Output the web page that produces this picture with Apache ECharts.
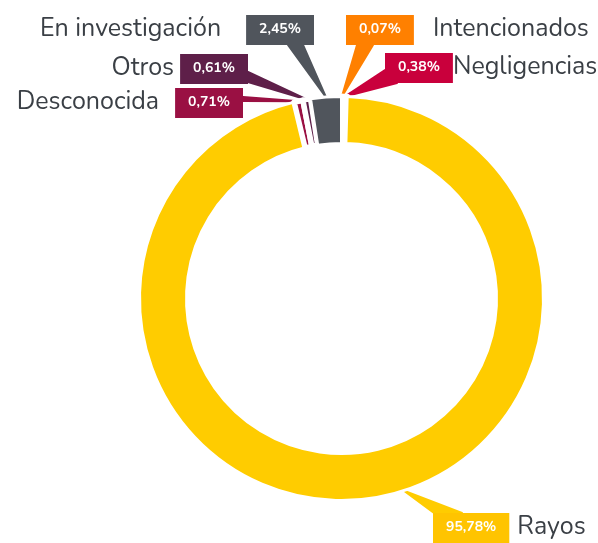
<!DOCTYPE html>
<html>
<head>
<meta charset="utf-8">
<script src="https://cdn.jsdelivr.net/npm/echarts@6/dist/echarts.min.js"></script>
<style>
  html, body { margin: 0; padding: 0; background: #fff; }
  #chart { width: 598px; height: 543px; }
</style>
</head>
<body>
<div id="chart"></div>
<script>
// datos (orden horario desde las 12)
const categories = ['Intencionados', 'Negligencias', 'Rayos', 'Desconocida', 'Otros', 'En investigación'];
const values = [0.07, 0.38, 95.78, 0.71, 0.61, 2.45];
const colors = ['#ff8000', '#c9003c', '#ffcc00', '#9a1043', '#5e1f49', '#50555c'];
const boxColors = ['#ff8000', '#c9003c', '#ffc400', '#9a1043', '#5e1f49', '#50555c'];

const CENTER = [341.5, 298.5];
const RADIUS = [155, 202];

// posicion de cada etiqueta: caja (izq, arriba), lado del nombre, separacion, base de la flecha
const labelPos = [
  { box: [346, 15], side: 'right', gap: 19, base: [[357, 45], [373, 45]] },
  { box: [385, 53], side: 'right', gap: 0, base: [[385, 70], [397, 83]] },
  { box: [433, 513], side: 'right', gap: 8, base: [[434, 513], [462, 513]], tipDeg: 18 },
  { box: [176, 88], side: 'left', gap: 16, base: [[243, 97], [243, 101]] },
  { box: [181, 54], side: 'left', gap: 6, base: [[248, 72], [248, 82]] },
  { box: [247, 15], side: 'left', gap: 25, base: [[288, 45], [303, 45]] }
];
const BOX_W = 67, BOX_H = 30;

const fmt = v => v.toFixed(2).replace('.', ',') + '%';

const rich = {};
labelPos.forEach((p, i) => {
  rich['b' + i] = {
    backgroundColor: boxColors[i],
    color: '#fff',
    fontWeight: 'bold',
    fontSize: 14,
    lineHeight: 14,
    padding: [8, 13, 8, 13],
    fontFamily: 'Nunito, Lato, sans-serif'
  };
  rich['n' + i] = {
    color: '#3a3f45',
    fontSize: 25,
    fontFamily: 'Nunito, Lato, sans-serif',
    padding: p.side === 'right' ? [0, 0, 0, p.gap] : [0, p.gap, 0, 0]
  };
});

const chart = echarts.init(document.getElementById('chart'));
chart.setOption({
  animation: false,
  series: [{
    type: 'pie',
    center: CENTER,
    radius: RADIUS,
    startAngle: 90,
    clockwise: true,
    avoidLabelOverlap: false,
    itemStyle: { borderColor: '#fff', borderWidth: 3 },
    label: {
      show: true,
      position: 'outside',
      formatter: p => {
        const i = p.dataIndex;
        const b = '{b' + i + '|' + fmt(values[i]) + '}';
        const n = '{n' + i + '|' + categories[i] + '}';
        return labelPos[i].side === 'right' ? b + n : n + b;
      },
      rich: rich
    },
    labelLine: { show: true, length: 10, length2: 10, lineStyle: { width: 2, join: 'round' } },
    labelLayout: params => {
      const p = labelPos[params.dataIndex];
      let tip = params.labelLinePoints ? params.labelLinePoints[0] : null;
      if (p.tipDeg != null) {
        const r = p.tipDeg * Math.PI / 180;
        tip = [CENTER[0] + RADIUS[1] * Math.sin(r), CENTER[1] + RADIUS[1] * Math.cos(r)];
      }
      // nombre a la derecha: texto empieza en la caja; nombre a la izquierda: termina en la caja
      const out = {
        x: p.side === 'right' ? p.box[0] : p.box[0] + BOX_W,
        y: p.box[1] + BOX_H / 2,
        align: p.side === 'right' ? 'left' : 'right',
        verticalAlign: 'middle'
      };
      if (tip) {
        // abanico de lineas desde la punta hasta la base -> cuña
        const a = p.base[0], b = p.base[1];
        const len = Math.hypot(b[0] - a[0], b[1] - a[1]);
        const n = Math.max(1, Math.ceil(len / 1.5));
        const pts = [tip];
        for (let k = 0; k <= n; k++) {
          const t = k / n;
          pts.push([a[0] + (b[0] - a[0]) * t, a[1] + (b[1] - a[1]) * t]);
          pts.push(tip);
        }
        out.labelLinePoints = pts;
      }
      return out;
    },
    data: categories.map((c, i) => ({
      name: c,
      value: values[i],
      // los sectores muy finos quedan casi tapados por el borde blanco
      itemStyle: { color: colors[i], borderWidth: values[i] < 1 ? 5.5 : 3 }
    }))
  }]
});
</script>
</body>
</html>
